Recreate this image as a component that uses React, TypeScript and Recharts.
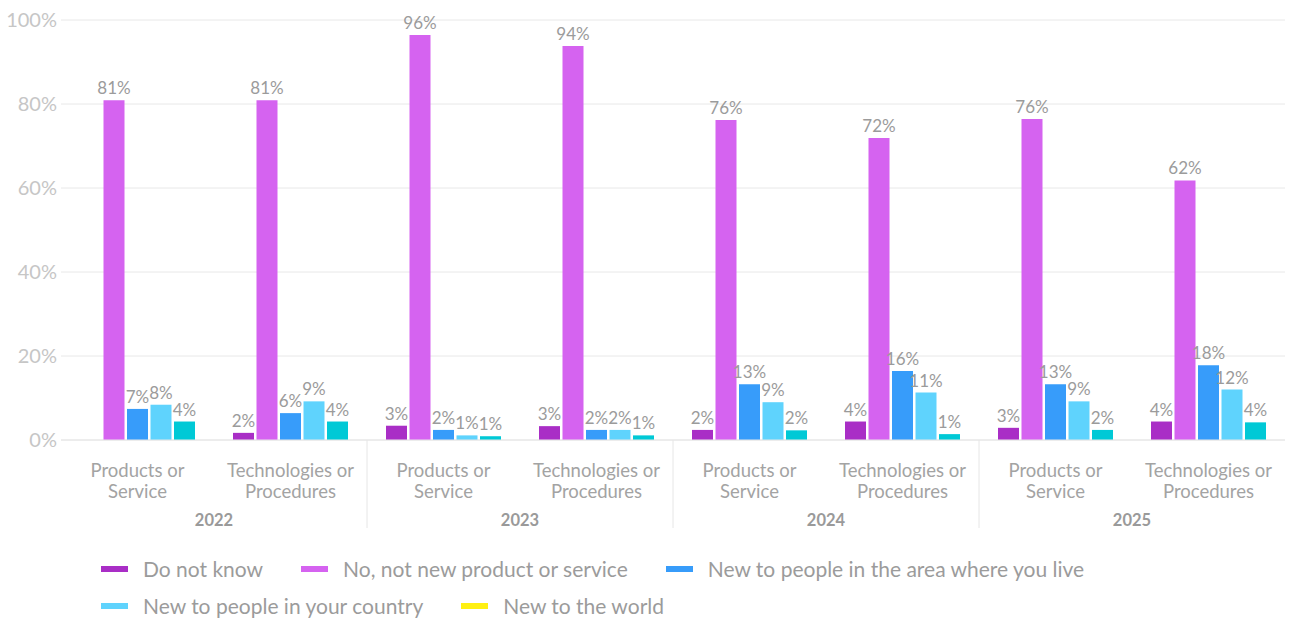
import { Bar, BarChart, CartesianGrid, LabelList, XAxis, YAxis } from "recharts";

const categories = [
  "Products or\nService",
  "Technologies or\nProcedures",
  "Products or\nService",
  "Technologies or\nProcedures",
  "Products or\nService",
  "Technologies or\nProcedures",
  "Products or\nService",
  "Technologies or\nProcedures",
];
const years = ["2022", "2022", "2023", "2023", "2024", "2024", "2025", "2025"];

const doNotKnow = [null, 1.7, 3.4, 3.3, 2.4, 4.4, 2.9, 4.4];
const notNew = [80.9, 80.9, 96.4, 93.8, 76.2, 71.9, 76.4, 61.8];
const newToArea = [7.4, 6.4, 2.4, 2.4, 13.3, 16.4, 13.3, 17.8];
const newToCountry = [8.4, 9.2, 1.1, 2.4, 9.0, 11.3, 9.2, 12.0];
const newToWorld = [4.4, 4.4, 0.9, 1.1, 2.3, 1.4, 2.4, 4.2];

const yTicks = [0, 20, 40, 60, 80, 100];

const series = [
  { key: "doNotKnow", name: "Do not know", fill: "#a92ec6", legend: "#a92ec6" },
  { key: "notNew", name: "No, not new product or service", fill: "#d563f0", legend: "#d563f0" },
  { key: "newToArea", name: "New to people in the area where you live", fill: "#379cfa", legend: "#379cfa" },
  { key: "newToCountry", name: "New to people in your country", fill: "#5fd3fd", legend: "#5fd3fd" },
  { key: "newToWorld", name: "New to the world", fill: "#00c9d6", legend: "#fff012" },
];

const data = categories.map((category, i) => ({
  category,
  year: years[i],
  doNotKnow: doNotKnow[i],
  notNew: notNew[i],
  newToArea: newToArea[i],
  newToCountry: newToCountry[i],
  newToWorld: newToWorld[i],
}));

const PLOT_WIDTH = 1224;
const BAND = PLOT_WIDTH / categories.length;

function CategoryTick(props: any) {
  const { x, y, payload } = props;
  const i = props.index ?? payload.index;
  const lines = String(payload.value).split("\n");
  const yearEnd = i % 2 === 1;
  return (
    <g>
      <text x={x} y={y} textAnchor="middle" fill="#a3a3a3" fontSize={18.5}>
        {lines.map((l, k) => (
          <tspan key={k} x={x} dy={k === 0 ? 37 : 21}>
            {l}
          </tspan>
        ))}
      </text>
      {yearEnd && (
        <text
          x={x - BAND / 2}
          y={y + 86}
          textAnchor="middle"
          fill="#9a9a9a"
          fontSize={16.5}
          fontWeight="bold"
        >
          {years[i]}
        </text>
      )}
      {yearEnd && i < categories.length - 1 && (
        <line
          x1={x + BAND / 2}
          x2={x + BAND / 2}
          y1={y}
          y2={y + 88}
          stroke="#e6e6e6"
        />
      )}
    </g>
  );
}

function ValueLabel(props: any) {
  const { x, y, width, value } = props;
  if (value === null || value === undefined) return null;
  return (
    <text
      x={Number(x) + Number(width) / 2}
      y={Number(y) - 6}
      textAnchor="middle"
      fill="#9b9b9b"
      fontSize={17}
    >
      {Math.round(value)}%
    </text>
  );
}

export default function App() {
  return (
    <div
      style={{
        position: "absolute",
        left: 0,
        top: 0,
        width: 1290,
        height: 619,
        fontFamily: "Lato, sans-serif",
        background: "#fff",
      }}
    >
      <BarChart
        width={1290}
        height={540}
        data={data}
        margin={{ top: 20, right: 5, bottom: 10, left: 0 }}
        barSize={21}
        barGap={2.5}
      >
        <CartesianGrid vertical={false} stroke="#e8e8e8" />
        <XAxis
          dataKey="category"
          height={90}
          tickSize={0}
          tickMargin={0}
          tickLine={false}
          axisLine={{ stroke: "#e6e6e6" }}
          interval={0}
          tick={<CategoryTick />}
        />
        <YAxis
          width={61}
          domain={[0, 100]}
          ticks={yTicks}
          tickSize={0}
          tickMargin={4}
          axisLine={false}
          tickLine={false}
          tick={{ fill: "#c6c6c6", fontSize: 20 }}
          tickFormatter={(v) => `${v}%`}
        />
        {series.map((s) => (
          <Bar
            key={s.key}
            dataKey={s.key}
            name={s.name}
            fill={s.fill}
            isAnimationActive={false}
          >
            <LabelList dataKey={s.key} content={<ValueLabel />} />
          </Bar>
        ))}
      </BarChart>
      <div
        style={{
          position: "absolute",
          left: 101,
          top: 557,
          width: 1120,
          display: "flex",
          flexWrap: "wrap",
          rowGap: 13,
          color: "#9b9b9b",
          fontSize: 21,
          lineHeight: "24px",
        }}
      >
        {series.map((s) => (
          <div
            key={s.key}
            style={{ display: "flex", alignItems: "center", marginRight: 38 }}
          >
            <span
              style={{
                display: "inline-block",
                width: 27,
                height: 6,
                background: s.legend,
                marginRight: 15,
              }}
            />
            <span>{s.name}</span>
          </div>
        ))}
      </div>
    </div>
  );
}
